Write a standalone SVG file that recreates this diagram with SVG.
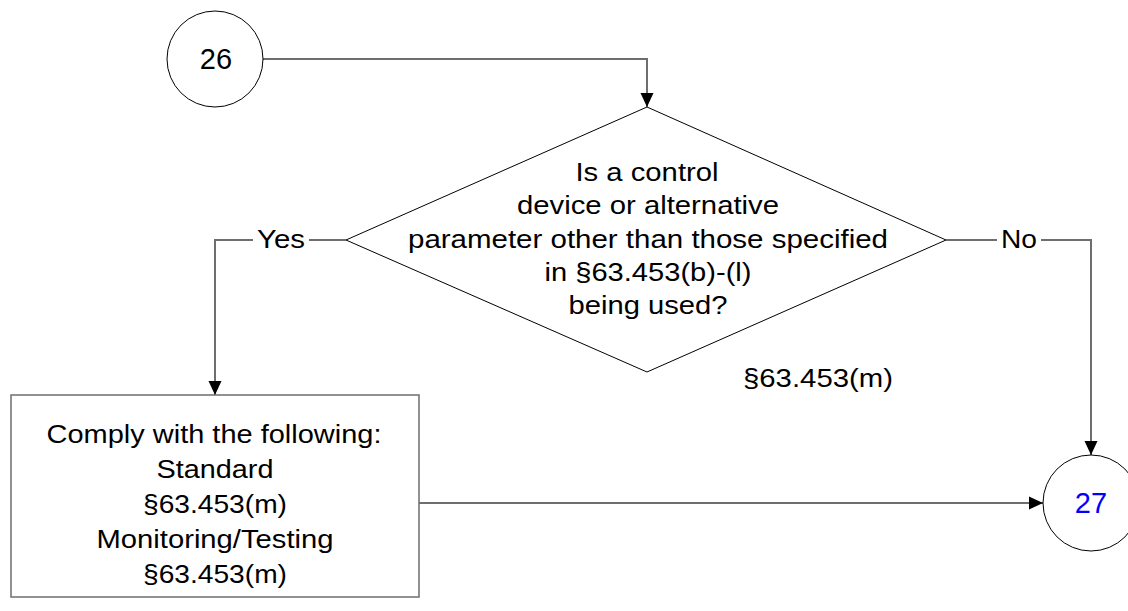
<svg xmlns="http://www.w3.org/2000/svg" width="1128" height="611" viewBox="0 0 1128 611">
<defs>
<marker id="arr" markerWidth="14" markerHeight="14" refX="14" refY="7" orient="auto" markerUnits="userSpaceOnUse">
<path d="M0,0.5 L14,7 L0,13.5 Z" fill="#000"/>
</marker>
<style>
.shape{fill:#fff;stroke:#000;stroke-width:1}
.box{fill:#fff;stroke:#6e6e6e;stroke-width:1.5}
.conn{fill:none;stroke:#6e6e6e;stroke-width:2}
text{font-family:"Liberation Sans",Arial,sans-serif;font-size:26px;fill:#000;text-anchor:middle}
.num{font-size:29px}
.lbl{fill:#fff}
</style>
</defs>
<rect width="1128" height="611" fill="#fff"/>
<g id="connectors">
<path class="conn" d="M263,59 H647 V107" marker-end="url(#arr)"/>
<path class="conn" d="M346,240 H215 V395" marker-end="url(#arr)"/>
<path class="conn" d="M946,240 H1091 V455" marker-end="url(#arr)"/>
<path class="conn" d="M419,503 H1043" marker-end="url(#arr)"/>
<rect class="lbl" x="253" y="226" width="56" height="26"/>
<text x="281" y="248" textLength="48" lengthAdjust="spacingAndGlyphs">Yes</text>
<rect class="lbl" x="997" y="226" width="44" height="26"/>
<text x="1019" y="248" textLength="36" lengthAdjust="spacingAndGlyphs">No</text>
</g>
<g id="n26">
<circle class="shape" cx="215" cy="59" r="48"/>
<text class="num" x="216" y="69">26</text>
</g>
<g id="decision">
<polygon class="shape" points="647,107 946,240 647,372 346,240"/>
<text x="647" y="181" textLength="143" lengthAdjust="spacingAndGlyphs">Is a control</text>
<text x="648" y="214" textLength="262" lengthAdjust="spacingAndGlyphs">device or alternative</text>
<text x="648" y="248" textLength="480" lengthAdjust="spacingAndGlyphs">parameter other than those specified</text>
<text x="648" y="281" textLength="207" lengthAdjust="spacingAndGlyphs">in §63.453(b)-(l)</text>
<text x="648" y="314" textLength="159" lengthAdjust="spacingAndGlyphs">being used?</text>
</g>
<text x="818" y="387" textLength="150" lengthAdjust="spacingAndGlyphs">§63.453(m)</text>
<g id="comply">
<rect class="box" x="11" y="395" width="408" height="202"/>
<text x="214" y="443" textLength="335" lengthAdjust="spacingAndGlyphs">Comply with the following:</text>
<text x="215" y="478" textLength="117" lengthAdjust="spacingAndGlyphs">Standard</text>
<text x="215" y="513" textLength="144" lengthAdjust="spacingAndGlyphs">§63.453(m)</text>
<text x="215" y="548" textLength="237" lengthAdjust="spacingAndGlyphs">Monitoring/Testing</text>
<text x="215" y="583" textLength="144" lengthAdjust="spacingAndGlyphs">§63.453(m)</text>
</g>
<g id="n27">
<circle class="shape" cx="1091" cy="503" r="48"/>
<text class="num" x="1091" y="513" style="fill:#0000ff">27</text>
</g>
</svg>
